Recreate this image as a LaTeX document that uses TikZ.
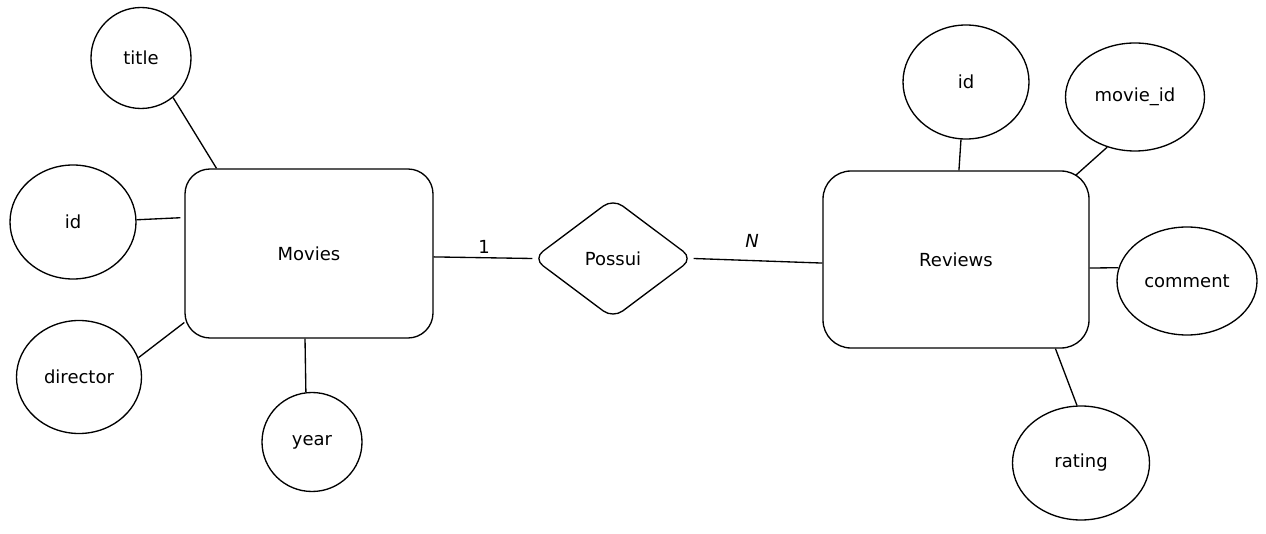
\documentclass[tikz,border=0pt]{standalone}
\usepackage{fontspec}
\setmainfont{DejaVu Sans}
\usetikzlibrary{shapes.geometric,calc}
\tikzset{
  attr/.style={draw, ellipse, line width=1pt, inner sep=0pt},
  entity/.style={draw, rectangle, line width=1pt, inner sep=0pt},
  rel/.style={draw, diamond, line width=1pt, inner sep=0pt, rounded corners=9pt},
  link/.style={line width=1pt},
  card/.style={inner sep=0pt},
}
\begin{document}
\begin{tikzpicture}[x=0.75pt,y=-0.75pt, font=\fontsize{13.5}{16}\selectfont]
\useasboundingbox (0,0) rectangle (1266,534);
% Movies side
\node[entity, minimum width=186pt, minimum height=126.75pt, rounded corners=18.75pt] (Movies) at (309,253.5) {Movies};
\node[attr, minimum width=75pt, minimum height=75.75pt] (title) at (141,58) {title};
\node[attr, minimum width=94.5pt, minimum height=85.5pt] (mid) at (73,222) {id};
\node[attr, minimum width=93.75pt, minimum height=84.75pt] (director) at (79,377) {director};
\node[attr, minimum width=75pt, minimum height=74.25pt] (year) at (312,442) {year};
% relationship
\node[rel, minimum width=120pt, minimum height=90pt] (Possui) at (613,258.5) {Possui};
% Reviews side
\node[entity, minimum width=199.5pt, minimum height=132.75pt, rounded corners=21pt] (Reviews) at (956,259.5) {Reviews};
\node[attr, minimum width=94.5pt, minimum height=85.5pt] (rid) at (966,82) {id};
\node[attr, minimum width=104.25pt, minimum height=81pt] (movieid) at (1135,97) {movie\_id};
\node[attr, minimum width=105pt, minimum height=81pt] (comment) at (1187,281) {comment};
\node[attr, minimum width=102.75pt, minimum height=85.5pt] (rating) at (1081,463) {rating};
% cardinality labels
\node[card] (c1) at (484,247) {1};
\node[card] (cN) at (752,241) {\textit{N}};
% connectors
\draw[link] (title.-51) -- ($(Movies.north west)!0.129!(Movies.north east)$);
\draw[link] (mid.2) -- ($(Movies.north west)!0.29!(Movies.south west)+(-4,0)$);
\draw[link] (director.18) -- ($(Movies.north west)!0.905!(Movies.south west)$);
\draw[link] ($(Movies.south west)!0.484!(Movies.south east)$) -- (year.97);
\draw[link] ($(Movies.north east)!0.52!(Movies.south east)$) -- (Possui.west);
\draw[link] (Possui.east) -- ($(Reviews.north west)!0.52!(Reviews.south west)$);
\draw[link] (rid.-95) -- ($(Reviews.north west)!0.511!(Reviews.north east)$);
\draw[link] (movieid.241) -- ($(Reviews.north east)+(-14,5)$);
\draw[link] (comment.169) -- ($(Reviews.north east)!0.548!(Reviews.south east)$);
\draw[link] ($(Reviews.south west)!0.872!(Reviews.south east)$) -- (rating.94);
\end{tikzpicture}
\end{document}
